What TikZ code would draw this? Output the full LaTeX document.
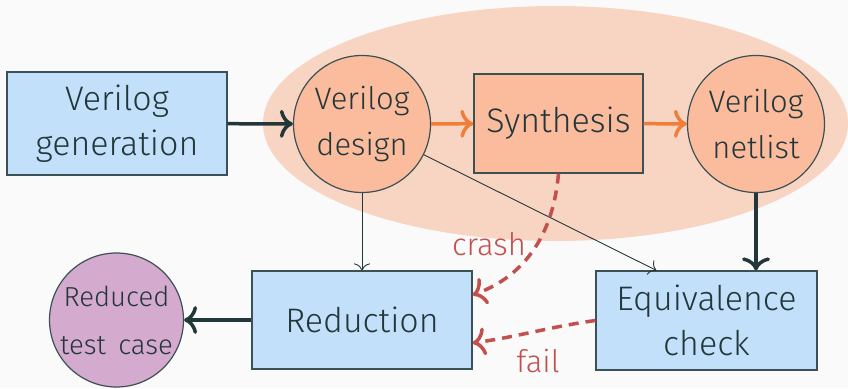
\documentclass[tikz,border=0pt]{standalone}
\usepackage{fontspec}
\setmainfont{Fira Sans Light}
\usetikzlibrary{arrows.meta,calc}
\definecolor{bg}{HTML}{FAFAFA}
\definecolor{dark}{HTML}{23373B}
\definecolor{boxline}{HTML}{3B5155}
\definecolor{boxblue}{HTML}{C2E0FA}
\definecolor{orangefill}{HTML}{FABC9C}
\definecolor{ellfill}{HTML}{F8D5C3}
\definecolor{orangearr}{HTML}{F07D38}
\definecolor{purplefill}{HTML}{D4AACE}
\definecolor{redarr}{HTML}{C4504E}
\begin{document}
\begin{tikzpicture}[x=1pt,y=1pt,
  box/.style={draw=boxline, line width=1.2pt, fill=boxblue, minimum width=220pt, minimum height=103pt, align=center, inner sep=0pt, text=dark, font=\fontsize{34}{45}\selectfont},
  circ/.style={draw=boxline, line width=1.2pt, fill=orangefill, circle, minimum size=137pt, align=center, inner sep=0pt, text=dark, font=\fontsize{31}{46}\selectfont},
  bigarrow/.style={line width=3.5pt, draw=dark, -{Computer Modern Rightarrow[length=13pt,width=28pt]}},
  orarrow/.style={line width=3.5pt, draw=orangearr, -{Computer Modern Rightarrow[length=13pt,width=28pt]}},
  thinarrow/.style={line width=0.9pt, draw=dark, -{Computer Modern Rightarrow[length=7pt,width=16pt]}},
  redarrow/.style={line width=3.5pt, draw=redarr, dash pattern=on 10pt off 7pt, -{Computer Modern Rightarrow[length=13pt,width=28pt]}},
  lbl/.style={text=redarr, font=\fontsize{31}{36}\selectfont, inner sep=0pt}
]
\fill[bg] (0,0) rectangle (848,-388);
\useasboundingbox (0,0) rectangle (848,-388);
\fill[ellfill] (555.5,-123.5) ellipse [x radius=292.5pt, y radius=117.5pt];

\node[box] (gen) at (117,-123.5) {Verilog\\generation};
\node[circ] (design) at (362,-124) {Verilog\\design};
\node[box, fill=orangefill, minimum width=169pt, minimum height=99pt] (synth) at (558.5,-123.5) {Synthesis};
\node[circ] (netlist) at (756,-124) {Verilog\\netlist};
\node[box, minimum height=98pt] (red) at (362,-320) {Reduction};
\node[box, minimum width=221pt, minimum height=99pt] (eq) at (706.5,-320.5) {Equivalence\\check};
\node[circ, fill=purplefill, minimum size=134pt, font=\fontsize{27.5}{48}\selectfont] (rtc) at (116.5,-320) {Reduced\\test\hspace{0.45em}case};

\coordinate (eqin) at ($(eq.north west)+(61,0)$);
\coordinate (crashend) at ($(red.east)+(0,25)$);
\coordinate (failend) at ($(red.east)+(0,-23)$);

\draw[bigarrow] (gen) -- (design);
\draw[orarrow] (design) -- (synth);
\draw[orarrow] (synth) -- (netlist);
\draw[thinarrow] (design) -- (red);
\draw[thinarrow] (design) -- (eqin);
\draw[bigarrow] (netlist) -- (netlist |- eq.north);
\draw[bigarrow] (red) -- (rtc);
\draw[redarrow] (synth.south) to[out=-95,in=20] (crashend);
\draw[redarrow] (eq.west) to[out=188,in=8] (failend);
\node[lbl] (crashlbl) at (489,-244) {crash};
\node[lbl] (faillbl) at (538,-361) {fail};
\end{tikzpicture}
\end{document}
